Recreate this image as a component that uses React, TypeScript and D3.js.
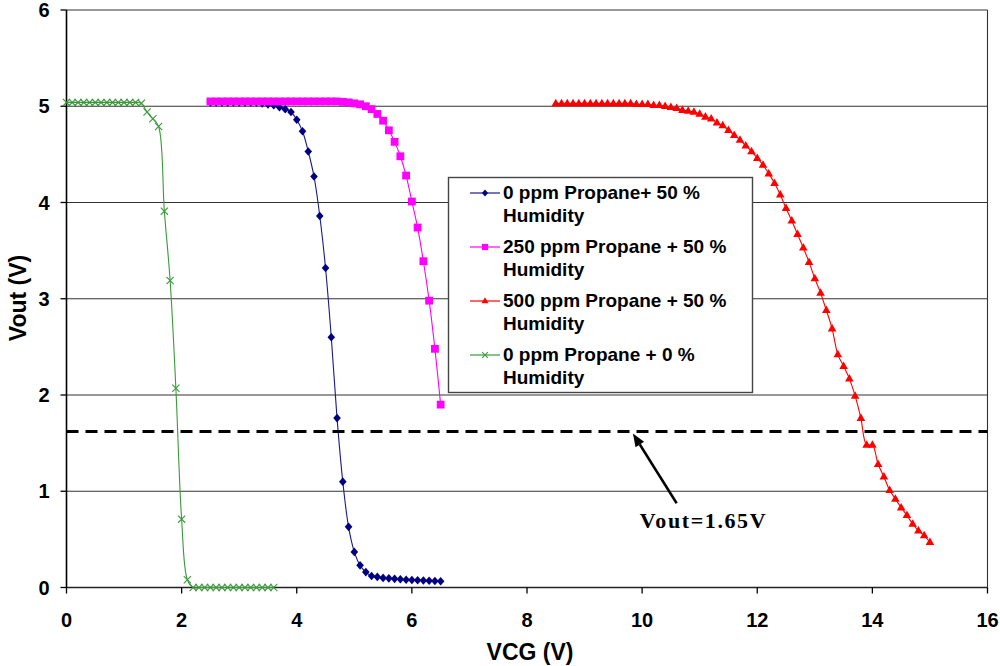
import React from "react";
import * as d3 from "d3";

// ---------- data ----------
const xTicks = [0, 2, 4, 6, 8, 10, 12, 14, 16];
const yTicks = [0, 1, 2, 3, 4, 5, 6];

const blueX = [2.5, 2.6, 2.7, 2.8, 2.9, 3.0, 3.1, 3.2, 3.3, 3.4, 3.5, 3.6, 3.7, 3.8, 3.9, 4.0, 4.1, 4.2, 4.3, 4.4, 4.5, 4.6, 4.7, 4.8, 4.9, 5.0, 5.1, 5.2, 5.3, 5.4, 5.5, 5.6, 5.7, 5.8, 5.9, 6.0, 6.1, 6.2, 6.3, 6.4, 6.5];
const blueY = [5.04, 5.04, 5.04, 5.04, 5.04, 5.04, 5.04, 5.04, 5.04, 5.03, 5.02, 5.01, 4.99, 4.97, 4.94, 4.86, 4.74, 4.53, 4.27, 3.86, 3.32, 2.6, 1.76, 1.1, 0.63, 0.37, 0.23, 0.16, 0.12, 0.11, 0.1, 0.095, 0.09, 0.085, 0.08, 0.078, 0.075, 0.072, 0.07, 0.068, 0.065];

const magentaX = [2.5, 2.6, 2.7, 2.8, 2.9, 3.0, 3.1, 3.2, 3.3, 3.4, 3.5, 3.6, 3.7, 3.8, 3.9, 4.0, 4.1, 4.2, 4.3, 4.4, 4.5, 4.6, 4.7, 4.8, 4.9, 5.0, 5.1, 5.2, 5.3, 5.4, 5.5, 5.6, 5.7, 5.8, 5.9, 6.0, 6.1, 6.2, 6.3, 6.4, 6.5];
const magentaY = [5.05, 5.05, 5.05, 5.05, 5.05, 5.05, 5.05, 5.05, 5.05, 5.05, 5.05, 5.05, 5.05, 5.05, 5.05, 5.05, 5.05, 5.05, 5.05, 5.05, 5.05, 5.05, 5.05, 5.045, 5.04, 5.03, 5.02, 5.0, 4.97, 4.92, 4.85, 4.75, 4.63, 4.48, 4.28, 4.01, 3.74, 3.39, 2.98, 2.48, 1.9];

const redX = [8.5, 8.6, 8.7, 8.8, 8.9, 9.0, 9.1, 9.2, 9.3, 9.4, 9.5, 9.6, 9.7, 9.8, 9.9, 10.0, 10.1, 10.2, 10.3, 10.4, 10.5, 10.6, 10.7, 10.8, 10.9, 11.0, 11.1, 11.2, 11.3, 11.4, 11.5, 11.6, 11.7, 11.8, 11.9, 12.0, 12.1, 12.2, 12.3, 12.4, 12.5, 12.6, 12.7, 12.8, 12.9, 13.0, 13.1, 13.2, 13.3, 13.4, 13.5, 13.6, 13.7, 13.8, 13.9, 14.0, 14.1, 14.2, 14.3, 14.4, 14.5, 14.6, 14.7, 14.8, 14.9, 15.0];
const redY = [5.03, 5.03, 5.03, 5.03, 5.03, 5.03, 5.03, 5.03, 5.03, 5.03, 5.03, 5.03, 5.03, 5.03, 5.02, 5.02, 5.02, 5.01, 5.01, 5.0, 4.99, 4.98, 4.96, 4.95, 4.94, 4.92, 4.89, 4.87, 4.83, 4.8, 4.75, 4.7, 4.65, 4.59, 4.53, 4.46, 4.39, 4.3, 4.2, 4.08, 3.94, 3.81, 3.67, 3.53, 3.38, 3.21, 3.06, 2.88, 2.69, 2.42, 2.3, 2.17, 1.99, 1.76, 1.48, 1.48, 1.28, 1.15, 1.01, 0.92, 0.83, 0.75, 0.66, 0.59, 0.54, 0.47];

const greenX = [0.0, 0.1, 0.2, 0.3, 0.4, 0.5, 0.6, 0.7, 0.8, 0.9, 1.0, 1.1, 1.2, 1.3, 1.4, 1.5, 1.6, 1.7, 1.8, 1.9, 2.0, 2.1, 2.2, 2.3, 2.4, 2.5, 2.6, 2.7, 2.8, 2.9, 3.0, 3.1, 3.2, 3.3, 3.4, 3.5, 3.6];
const greenY = [5.04, 5.04, 5.04, 5.04, 5.04, 5.04, 5.04, 5.04, 5.04, 5.04, 5.04, 5.04, 5.04, 5.03, 4.94, 4.87, 4.79, 3.91, 3.19, 2.07, 0.71, 0.08, 0, 0, 0, 0, 0, 0, 0, 0, 0, 0, 0, 0, 0, 0, 0];

const seriesNames = [
  ["0 ppm Propane+ 50 %", "Humidity"],
  ["250 ppm Propane + 50 %", "Humidity"],
  ["500 ppm Propane + 50 %", "Humidity"],
  ["0 ppm Propane + 0 %", "Humidity"],
];

const thresholdY = 1.62;
const annotationText = "Vout=1.65V";
const arrowFrom = [10.6, 0.875];
const arrowTo = [9.84, 1.6];
const annotationPos = [9.96, 0.62];

// ---------- layout ----------
const W = 1000;
const H = 666;
const x = d3.scaleLinear().domain([0, 16]).range([66.5, 987.5]);
const y = d3.scaleLinear().domain([0, 6]).range([587.5, 10]);

const SANS = "Arial, 'Liberation Sans', sans-serif";
const SERIF = "'Times New Roman', 'Liberation Serif', serif";

type Marker = "diamond" | "square" | "triangle" | "cross";

function markerEl(kind: Marker, cx: number, cy: number, color: string, k: number, key: any) {
  if (kind === "diamond") {
    const s = 4.3 * k;
    const w = 3.8 * k;
    return <path key={key} d={`M${cx},${cy - s}L${cx + w},${cy}L${cx},${cy + s}L${cx - w},${cy}Z`} fill={color} />;
  }
  if (kind === "square") {
    const s = 3.9 * k;
    return <rect key={key} x={cx - s} y={cy - s} width={2 * s} height={2 * s} fill={color} />;
  }
  if (kind === "triangle") {
    const s = 4.3 * k;
    return <path key={key} d={`M${cx},${cy - s * 1.1}L${cx + s},${cy + s * 0.65}L${cx - s},${cy + s * 0.65}Z`} fill={color} />;
  }
  const s = 3.6 * k;
  return (
    <path key={key} d={`M${cx - s},${cy - s}L${cx + s},${cy + s}M${cx - s},${cy + s}L${cx + s},${cy - s}`} stroke={color} strokeWidth={1.1} fill="none" />
  );
}

const series = [
  { xs: blueX, ys: blueY, color: "#000080", line: "#1a1a8c", marker: "diamond" as Marker },
  { xs: magentaX, ys: magentaY, color: "#FF00FF", line: "#FF00FF", marker: "square" as Marker },
  { xs: redX, ys: redY, color: "#FF0000", line: "#FF0000", marker: "triangle" as Marker },
  { xs: greenX, ys: greenY, color: "#3A9A3A", line: "#3A9A3A", marker: "cross" as Marker },
];

export default function App() {
  const lineGen = d3
    .line<[number, number]>()
    .x((d) => x(d[0]))
    .y((d) => y(d[1]))
    .curve(d3.curveCatmullRom.alpha(0.5));

  const legendX = 448.5;
  const legendY = 177.5;
  const legendW = 304;
  const legendH = 215;

  const ax1 = x(arrowFrom[0]);
  const ay1 = y(arrowFrom[1]);
  const ax2 = x(arrowTo[0]);
  const ay2 = y(arrowTo[1]);
  const ang = Math.atan2(ay2 - ay1, ax2 - ax1);
  const hl = 13;
  const hw = 5;
  const bx = ax2 - hl * Math.cos(ang);
  const by = ay2 - hl * Math.sin(ang);
  const px = -Math.sin(ang);
  const py = Math.cos(ang);

  return (
    <svg width={W} height={H} style={{ position: "absolute", left: 0, top: 0, background: "#fff" }}>
      <rect x={0} y={0} width={W} height={H} fill="#fff" />
      {/* gridlines */}
      {yTicks.filter((t) => t > 0).map((t) => (
        <line key={"g" + t} x1={x(0)} x2={x(16)} y1={y(t)} y2={y(t)} stroke="#333" strokeWidth={1.1} />
      ))}
      {/* right border */}
      <line x1={x(16)} x2={x(16)} y1={y(6)} y2={y(0)} stroke="#333" strokeWidth={1.1} />
      {/* axes */}
      <line x1={x(0)} x2={x(0)} y1={y(6)} y2={y(0)} stroke="#000" strokeWidth={1.6} />
      <line x1={x(0)} x2={x(16)} y1={y(0)} y2={y(0)} stroke="#222" strokeWidth={1.4} />
      {yTicks.map((t) => (
        <g key={"yt" + t}>
          <line x1={x(0) - 6} x2={x(0)} y1={y(t)} y2={y(t)} stroke="#000" strokeWidth={1.3} />
          <text x={49.5} y={y(t) + 7} textAnchor="end" fontFamily={SANS} fontWeight="bold" fontSize={20} fill="#000">
            {t}
          </text>
        </g>
      ))}
      {xTicks.map((t) => (
        <g key={"xt" + t}>
          <line x1={x(t)} x2={x(t)} y1={y(0)} y2={y(0) + 6} stroke="#000" strokeWidth={1.3} />
          <text x={x(t)} y={627} textAnchor="middle" fontFamily={SANS} fontWeight="bold" fontSize={20} fill="#000">
            {t}
          </text>
        </g>
      ))}
      {/* axis titles */}
      <text x={530} y={660} textAnchor="middle" fontFamily={SANS} fontWeight="bold" fontSize={23} fill="#000">
        VCG (V)
      </text>
      <text transform="translate(26,298) rotate(-90)" textAnchor="middle" fontFamily={SANS} fontWeight="bold" fontSize={23} fill="#000">
        Vout (V)
      </text>

      {/* series */}
      {series.map((s, i) => {
        const pts = s.xs.map((v, j) => [v, s.ys[j]] as [number, number]);
        return (
          <g key={"s" + i}>
            <path d={lineGen(pts) || ""} fill="none" stroke={s.line} strokeWidth={1.1} />
            {pts.map((p, j) => markerEl(s.marker, x(p[0]), y(p[1]), s.color, 1, j))}
          </g>
        );
      })}

      {/* threshold dashed line */}
      <line x1={x(0)} x2={x(16)} y1={y(thresholdY)} y2={y(thresholdY)} stroke="#000" strokeWidth={3} strokeDasharray="12,7" />

      {/* arrow annotation */}
      <line x1={ax1} y1={ay1} x2={bx} y2={by} stroke="#000" strokeWidth={2.5} />
      <path d={`M${ax2},${ay2}L${bx + px * hw},${by + py * hw}L${bx - px * hw},${by - py * hw}Z`} fill="#000" />
      <text x={x(annotationPos[0])} y={y(annotationPos[1])} fontFamily={SERIF} fontWeight="bold" fontSize={22} letterSpacing={1.6} fill="#000">
        {annotationText}
      </text>

      {/* legend */}
      <rect x={legendX} y={legendY} width={legendW} height={legendH} fill="#fff" stroke="#444" strokeWidth={1.4} />
      {seriesNames.map((nm, i) => {
        const base = 199 + i * 54;
        const cy = base - 6;
        const s = series[i];
        return (
          <g key={"l" + i}>
            <line x1={470} x2={500} y1={cy} y2={cy} stroke={s.line} strokeWidth={1.2} />
            {markerEl(s.marker, 485, cy, s.color, 0.8, "m")}
            <text x={503} y={base} fontFamily={SANS} fontWeight="bold" fontSize={19} fill="#000">
              {nm[0]}
            </text>
            <text x={503} y={base + 23} fontFamily={SANS} fontWeight="bold" fontSize={19} fill="#000">
              {nm[1]}
            </text>
          </g>
        );
      })}
    </svg>
  );
}
